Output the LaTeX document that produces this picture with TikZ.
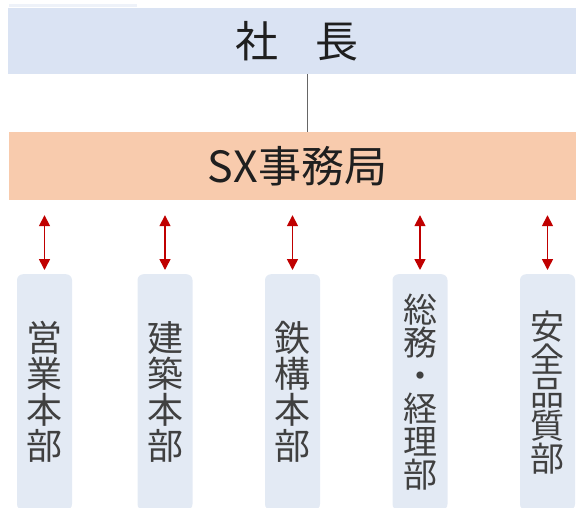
\documentclass[tikz,border=0pt]{standalone}
\usepackage{fontspec}
\newfontfamily\cjk{Noto Sans CJK JP}
\usetikzlibrary{arrows.meta}
\definecolor{topblue}{HTML}{DAE3F3}
\definecolor{faintblue}{HTML}{EEF2F9}
\definecolor{sxorange}{HTML}{F8CBAD}
\definecolor{deptblue}{HTML}{E3EAF4}
\definecolor{arrowred}{HTML}{C00000}
\definecolor{txtgray}{HTML}{404040}
\tikzset{
  bar/.style={rectangle, inner sep=0pt, minimum width=578pt},
  dept/.style={rectangle, rounded corners=6pt, fill=deptblue, inner sep=0pt,
    minimum width=55pt, minimum height=236pt, anchor=north, align=center,
    text=txtgray},
  bigdept/.style={dept, font={\cjk\fontsize{36}{36}\selectfont}},
  smalldept/.style={dept, font={\cjk\fontsize{34}{33}\selectfont}},
  link/.style={draw=arrowred, line width=1.6pt,
    {Triangle[length=11pt,width=11pt]}-{Triangle[length=11pt,width=11pt]},
    shorten <=15pt, shorten >=4pt}
}
\begin{document}
\begin{tikzpicture}[x=1pt,y=-1pt]
\useasboundingbox (0,0) rectangle (576,508);
\begin{scope}
\clip (0,0) rectangle (576,508);
\fill[faintblue] (9,4) rectangle (137,7);
\node[bar, fill=topblue, minimum height=66pt, font={\cjk\fontsize{43}{44}\selectfont}, text={black!88}] (pres) at (297,41) {社\hspace{0.85em}長};
\node[bar, fill=sxorange, minimum height=68pt, font={\cjk\fontsize{43}{44}\selectfont}, text={black!88}] (sx) at (297.5,166) {SX事務局};
\coordinate (c) at (307,0);
\draw[black!60, line width=0.8pt] (pres.south -| c) -- (sx.north -| c);

\node[bigdept] (d1) at (44.5,274) {営\\業\\本\\部};
\node[bigdept] (d2) at (165,274) {建\\築\\本\\部};
\node[bigdept] (d3) at (292.5,274) {鉄\\構\\本\\部};
\node[smalldept] (d4) at (420,274) {総\\務\\・\\経\\理\\部};
\node[smalldept] (d5) at (547.5,274) {安\\全\\品\\質\\部};

\foreach \d in {d1,d2,d3,d4,d5}
  \draw[link] (sx.south -| \d.north) -- (\d.north);
\end{scope}
\end{tikzpicture}
\end{document}
